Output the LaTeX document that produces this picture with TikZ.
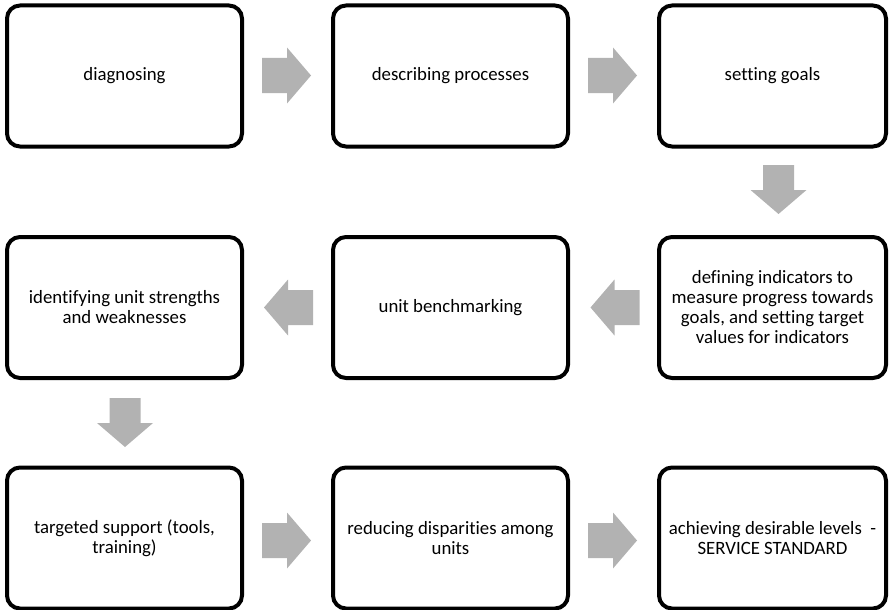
\documentclass[tikz,border=0pt]{standalone}
\usepackage{fontspec}
\setmainfont{Carlito}[Ligatures=NoCommon]
\begin{document}
\begin{tikzpicture}[x=1pt,y=-1pt,
  stepbox/.style={draw=black,line width=4pt,rounded corners=13pt,fill=white,
    align=center,font=\fontsize{18.8}{20}\selectfont,inner sep=0pt},
  wbox/.style={stepbox,minimum width=235pt,minimum height=141pt},
  nbox/.style={stepbox,minimum width=227pt,minimum height=141pt},
  arrowfill/.style={fill=black!30},
  pics/rarr/.style={code={\fill[arrowfill] (-24.5,-17.5) -- (0.5,-17.5) -- (0.5,-28) -- (24.5,0) -- (0.5,28) -- (0.5,17.5) -- (-24.5,17.5) -- cycle;}},
  pics/larr/.style={code={\fill[arrowfill] (24.5,-17.5) -- (-0.5,-17.5) -- (-0.5,-28) -- (-24.5,0) -- (-0.5,28) -- (-0.5,17.5) -- (24.5,17.5) -- cycle;}},
  pics/darr/.style={code={\fill[arrowfill] (-15.5,-24.5) -- (-15.5,0.5) -- (-28,0.5) -- (0,24.5) -- (28,0.5) -- (15.5,0.5) -- (15.5,-24.5) -- cycle;}}
]
\useasboundingbox (0,0) rectangle (889,610);

% boxes
\node[wbox] (b1) at (124.5,76) {diagnosing};
\node[wbox] (b2) at (450.5,76) {describing processes};
\node[nbox] (b3) at (772.5,76) {setting goals};

\node[nbox] (b4) at (772.5,307.5) {defining indicators to\\measure progress towards\\goals, and setting target\\values for indicators};
\node[wbox] (b5) at (450.5,307.5) {unit benchmarking};
\node[wbox] (b6) at (124.5,307.5) {identifying unit strengths\\and weaknesses};

\node[wbox] (b7) at (124.5,538) {targeted support (tools,\\training)};
\node[wbox] (b8) at (450.5,538) {reducing disparities among\\units};
\node[nbox] (b9) at (772.5,538) {achieving desirable levels~~-\\SERVICE STANDARD};

% block arrows
\coordinate (a12) at (286.5,75.5);
\coordinate (a23) at (612.5,75.5);
\coordinate (a34) at (778.5,189.5);
\coordinate (a45) at (615,307.5);
\coordinate (a56) at (288.5,307.5);
\coordinate (a67) at (125,422.5);
\coordinate (a78) at (286.5,540.5);
\coordinate (a89) at (612.5,540.5);
\pic at (a12) {rarr};
\pic at (a23) {rarr};
\pic at (a34) {darr};
\pic at (a45) {larr};
\pic at (a56) {larr};
\pic at (a67) {darr};
\pic at (a78) {rarr};
\pic at (a89) {rarr};
\end{tikzpicture}
\end{document}
